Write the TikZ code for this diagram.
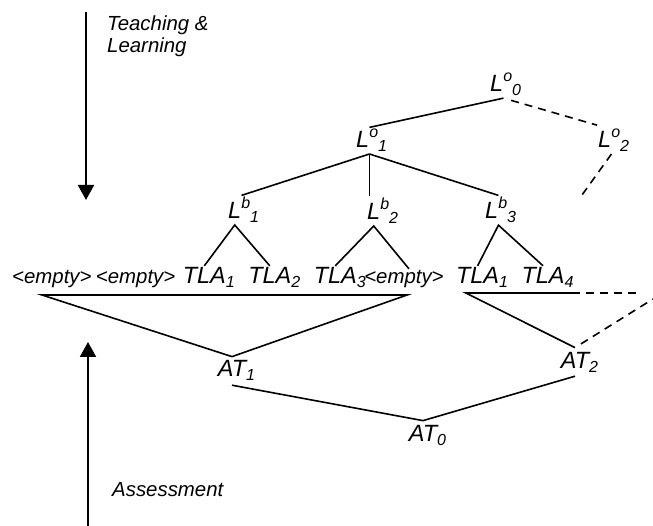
\documentclass[tikz,border=0pt]{standalone}
\usepackage{fontspec}
\setmainfont{Liberation Sans}
\usetikzlibrary{arrows.meta, positioning}
\newcommand{\idxfont}{\fontsize{16}{16}\selectfont}
\newcommand{\upidx}[1]{\raisebox{10pt}{\idxfont #1}}
\newcommand{\dnidx}[1]{\raisebox{-4pt}{\idxfont #1}}
\newcommand{\lvl}[2]{L\rlap{\upidx{#1}\dnidx{#2}}}
\tikzstyle{lnode} = [inner sep=0pt, outer ysep=2pt, anchor=base west,
    font=\fontsize{23.5}{28}\selectfont\itshape]
\tikzstyle{blank} = [inner sep=0pt, outer ysep=2pt, anchor=base west,
    font=\fontsize{20.4}{23}\selectfont\itshape]
\tikzstyle{atnode} = [inner xsep=0pt, inner ysep=4pt, anchor=base,
    font=\fontsize{23.5}{28}\selectfont\itshape]
\tikzstyle{note} = [inner sep=0pt, align=left,
    font=\fontsize{20.4}{22}\selectfont\itshape]
\tikzstyle{line} = [draw, line width=1.6pt]
\tikzstyle{dline} = [line, dash pattern=on 8pt off 6pt]
\tikzstyle{flow} = [draw, line width=2pt, -{Triangle[width=16pt,length=15pt]}]

\begin{document}
\begin{tikzpicture}[x=1pt, y=-1pt]
    \useasboundingbox (0,0) rectangle (653,526);
    % Levels
    \node [lnode] (lo0) at (490,92) {\lvl{o}{0}};
    \node [lnode] (lo1) at (356,148) {\lvl{o}{1}};
    \node [lnode] (lo2) at (598,148) {\lvl{o}{2}};
    \node [lnode] (lb1) at (228,219) {\lvl{b}{1}};
    \node [lnode] (lb2) at (367,220) {\lvl{b}{2}};
    \node [lnode] (lb3) at (485,219) {\lvl{b}{3}};
    % Activities
    \node [blank] (e1) at (12,284) {<empty>};
    \node [blank, base right=4pt of e1] (e2) {<empty>};
    \node [lnode, base right=7pt of e2] (tla1) {TLA\rlap{\dnidx{1}}};
    \node [lnode, base right=22pt of tla1] (tla2) {TLA\rlap{\dnidx{2}}};
    \node [lnode, base right=22pt of tla2] (tla3) {TLA\rlap{\dnidx{3}}};
    \node [blank, base right=7pt of tla3] (e3) {<empty>};
    \node [lnode, base right=12pt of e3] (tla5) {TLA\rlap{\dnidx{1}}};
    \node [lnode, base right=22pt of tla5] (tla4) {TLA\rlap{\dnidx{4}}};
    % Assessment tasks
    \node [atnode] (at1) at (232,377) {AT\rlap{\dnidx{1}}};
    \node [atnode] (at2) at (575,368) {AT\rlap{\dnidx{2}}};
    \node [atnode] (at0) at (423,441) {AT\rlap{\dnidx{0}}};
    % Side notes
    \node [note, anchor=north west] (teach) at (107,16) {Teaching \&\\Learning};
    \node [note, anchor=base west] (assess) at (112,496) {Assessment};
    \coordinate (tstart) at (86,12);
    \coordinate (tend) at (86,200);
    \coordinate (astart) at (88,526);
    \coordinate (aend) at (88,342);
    \coordinate (lo2end) at (582,195);
    \coordinate (tla4end) at (639,293);
    \coordinate (at2end) at (653,299);
    \coordinate (lfoot) at ([xshift=30pt,yshift=-11pt]e1.base west);
    \coordinate (mfoot) at ([xshift=43pt,yshift=-11pt]e3.base west);
    \coordinate (rfoot) at ([xshift=10pt,yshift=-9pt]tla5.base west);
    \coordinate (cut) at ([xshift=7pt,yshift=-9pt]tla4.base east);
    % Edges
    \path [flow] (tstart) -- (tend);
    \path [flow] (astart) -- (aend);
    \path [line] (lo0.south east) -- (lo1.north east);
    \path [dline, shorten <=8pt, shorten >=8pt] (lo0.south east) -- (lo2.north);
    \path [dline] (lo2.south east) -- (lo2end);
    \path [line] (lo1.south east) -- (lb1.north east);
    \path [line] (lo1.south east) -- (lo1.south east |- lb2.north);
    \path [line] (lo1.south east) -- (lb3.north east);
    \path [line] (tla1.north) -- (lb1.south) -- (tla2.north);
    \path [line] (tla3.north) -- (lb2.south) -- ([xshift=5pt]e3.north);
    \path [line] (tla5.north) -- (lb3.south east) -- (tla4.north);
    \path [line] (lfoot) -- (mfoot) -- (at1.north) -- cycle;
    \path [line] (at2.north) -- (rfoot) -- (cut);
    \path [dline] (cut) -- (tla4end);
    \path [dline, shorten <=7pt] (at2.north) -- (at2end);
    \path [line] (at1.south) -- (at0.north) -- (at2.south);
\end{tikzpicture}
\end{document}
